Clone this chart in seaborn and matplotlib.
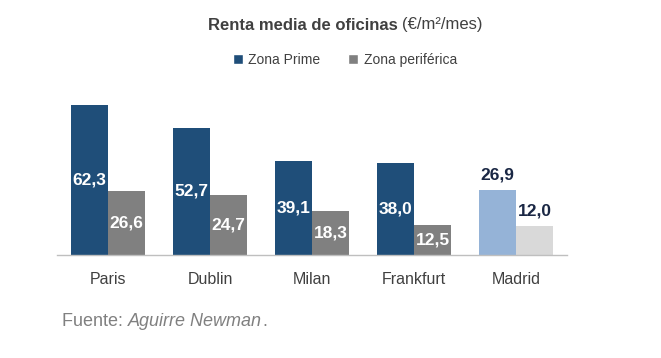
import matplotlib
matplotlib.use('Agg')
import matplotlib.pyplot as plt
from matplotlib.patches import Patch
import pandas as pd
import seaborn as sns

sns.set_style('white')
plt.rcParams['font.family'] = ['Liberation Sans', 'DejaVu Sans']

# Data
cities = ['Paris', 'Dublin', 'Milan', 'Frankfurt', 'Madrid']
prime = [62.3, 52.7, 39.1, 38.0, 26.9]
periferica = [26.6, 24.7, 18.3, 12.5, 12.0]
series = ['Zona Prime', 'Zona periférica']

df = pd.DataFrame({'ciudad': cities, series[0]: prime, series[1]: periferica})
df = pd.melt(df, id_vars=['ciudad'], value_vars=series, var_name='zona', value_name='renta')

c_prime, c_peri = '#1f4e79', '#808080'
c_prime_es, c_peri_es = '#95b3d7', '#d9d9d9'

fig = plt.figure(figsize=(6.61, 3.58), dpi=100)
ax = fig.add_axes([57 / 661, 103 / 358, 510 / 661, 169 / 358])

sns.barplot(data=df, x='ciudad', y='renta', hue='zona', palette=[c_prime, c_peri],
            width=0.73, ax=ax, legend=False, saturation=1, linewidth=0)

ax.set_xlim(-0.5, 4.5)
ax.set_ylim(0, 70)
ax.set_xlabel('')
ax.set_ylabel('')
ax.set_yticks([])
for s in ['top', 'left', 'right']:
    ax.spines[s].set_visible(False)
ax.spines['bottom'].set_color('#bfbfbf')
ax.spines['bottom'].set_linewidth(1)
ax.tick_params(axis='x', length=0, pad=12, labelsize=11.5, labelcolor='#404040')

# Madrid highlighted in lighter colours, labels on top
ax.containers[0][4].set_facecolor(c_prime_es)
ax.containers[1][4].set_facecolor(c_peri_es)

for cont, vals in zip(ax.containers, [prime, periferica]):
    for i, (bar, v) in enumerate(zip(cont, vals)):
        x = bar.get_x() + bar.get_width() / 2
        txt = f'{v:.1f}'.replace('.', ',')
        if cities[i] == 'Madrid':
            ax.text(x, v + 3, txt, ha='center', va='bottom', color='#1a2744',
                    fontsize=12.5, fontweight='bold')
        else:
            ax.text(x, v / 2, txt, ha='center', va='center', color='white',
                    fontsize=12.5, fontweight='bold')

# Title: bold part + normal part, centred together
t1 = fig.text(0, 1 - 25 / 358, 'Renta media de oficinas ', fontsize=12,
              fontweight='bold', color='#404040', va='center')
t2 = fig.text(0, 1 - 25 / 358, '(€/m²/mes)', fontsize=12, color='#404040', va='center')
fig.canvas.draw()
r = fig.canvas.get_renderer()
w1 = t1.get_window_extent(r).width / fig.bbox.width
w2 = t2.get_window_extent(r).width / fig.bbox.width
x0 = 345 / 661 - (w1 + w2) / 2
t1.set_x(x0)
t2.set_x(x0 + w1)

handles = [Patch(facecolor=c_prime), Patch(facecolor=c_peri)]
fig.legend(handles, series, loc='center', bbox_to_anchor=(345 / 661, 1 - 60 / 358),
           ncol=2, frameon=False, fontsize=10, handlelength=0.7, handleheight=0.7,
           handletextpad=0.4, columnspacing=2.0, labelcolor='#404040')

# Source line: "Fuente: " normal, name italic, final period normal
y_src = 1 - 322 / 358
s1 = fig.text(62 / 661, y_src, 'Fuente: ', fontsize=13, color='#808080', va='center')
fig.canvas.draw()
ws1 = s1.get_window_extent(r).width / fig.bbox.width
s2 = fig.text(62 / 661 + ws1, y_src, 'Aguirre Newman', fontsize=13, color='#808080',
              va='center', style='italic')
fig.canvas.draw()
ws2 = s2.get_window_extent(r).width / fig.bbox.width
fig.text(62 / 661 + ws1 + ws2, y_src, '.', fontsize=13, color='#808080', va='center')

fig.savefig('out.png', dpi=100)
